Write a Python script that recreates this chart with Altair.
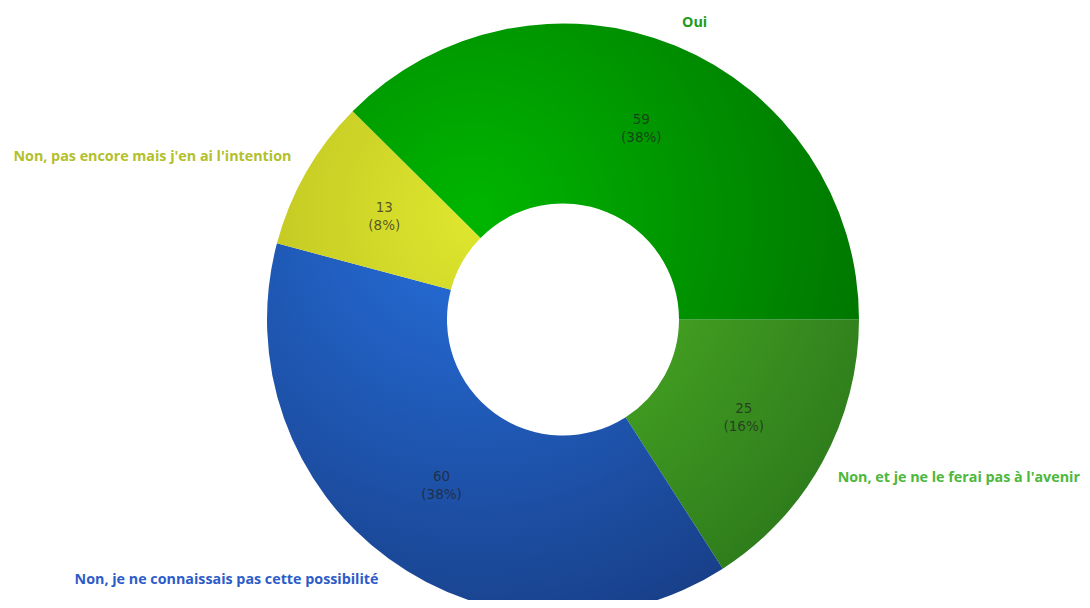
import math
import altair as alt
import pandas as pd

# ---- data (clockwise from 3 o'clock) ----
categories = [
    "Non, et je ne le ferai pas à l'avenir",
    "Non, je ne connaissais pas cette possibilité",
    "Non, pas encore mais j'en ai l'intention",
    "Oui",
]
values = [25, 60, 13, 59]

# ---- styles ----
light_colors = ["#56c026", "#2670de", "#dfe72e", "#00b600"]
dark_colors = ["#2e7c1c", "#183f88", "#a8aa18", "#007000"]
label_colors = ["#4cb83c", "#2d5cc8", "#b3c02c", "#1a9c1a"]

CX, CY = 555, 311.5          # pie centre (plot coords)
R_OUT, R_IN = 296, 116
GX, GY, RG = 467, 207, 440   # shared radial-gradient centre / radius
START = math.pi / 2          # first slice starts at 3 o'clock
LABEL_R = 313

total = sum(values)
ends = list(pd.Series(values).cumsum())
starts = [e - v for e, v in zip(ends, values)]

df = pd.DataFrame({"category": categories, "value": values,
                   "start": starts, "end": ends})
df["mid"] = (df["start"] + df["end"]) / 2
df["pct"] = (df["value"] / total * 100).round().astype(int)
df["inner"] = df["value"].astype(str) + "\n(" + df["pct"].astype(str) + "%)"
mid_angles = [START + 2 * math.pi * m / total for m in df["mid"]]
df["side"] = ["right" if math.sin(a) > 0 else "left" for a in mid_angles]
df["half"] = ["top" if math.cos(a) > 0 else "bottom" for a in mid_angles]

theta_scale = alt.Scale(domain=[0, total], range=[START, START + 2 * math.pi])


def gradient_for(i):
    a0 = START + 2 * math.pi * starts[i] / total
    a1 = START + 2 * math.pi * ends[i] / total
    pts = []
    for a in (a0, a1):
        for r in (R_OUT, R_IN):
            pts.append((CX + r * math.sin(a), CY - r * math.cos(a)))
    k = math.ceil(a0 / (math.pi / 2))
    while k * math.pi / 2 < a1:
        a = k * math.pi / 2
        pts.append((CX + R_OUT * math.sin(a), CY - R_OUT * math.cos(a)))
        k += 1
    xs = [p[0] for p in pts]
    ys = [p[1] for p in pts]
    bx, by = min(xs), min(ys)
    w, h = max(xs) - bx, max(ys) - by
    s = max(w, h)
    ox, oy = bx + (w - s) / 2, by + (h - s) / 2
    gx, gy, gr = (GX - ox) / s, (GY - oy) / s, RG / s
    return {
        "gradient": "radial",
        "x1": gx, "y1": gy, "r1": 0,
        "x2": gx, "y2": gy, "r2": gr,
        "stops": [
            {"offset": 0, "color": light_colors[i]},
            {"offset": 1, "color": dark_colors[i]},
        ],
    }


base = alt.Chart(df)

arcs = []
for i, cat in enumerate(categories):
    arcs.append(
        base.transform_filter(alt.datum.category == cat)
        .mark_arc(radius=R_OUT, radius2=R_IN, fill=gradient_for(i), strokeWidth=0)
        .encode(
            theta=alt.Theta("start:Q", scale=theta_scale),
            theta2=alt.Theta2("end:Q"),
            x=alt.value(CX),
            y=alt.value(CY),
        )
    )

inner_text = base.mark_text(
    radius=206, lineBreak="\n", font="DejaVu Sans", fontSize=13.5,
    lineHeight=18, fill="#222222", fillOpacity=0.72, align="center",
    baseline="middle", dy=-9,
).encode(
    theta=alt.Theta("mid:Q", scale=theta_scale),
    text="inner:N",
    x=alt.value(CX),
    y=alt.value(CY),
)

label_color = alt.Color("category:N",
                        scale=alt.Scale(domain=categories, range=label_colors),
                        legend=None)


def side_labels(side, half, align, dy):
    return base.transform_filter(
        (alt.datum.side == side) & (alt.datum.half == half)
    ).mark_text(
        radius=LABEL_R, font="Open Sans", fontSize=14.3, fontWeight="bold",
        align=align, baseline="middle", dy=dy,
    ).encode(
        theta=alt.Theta("mid:Q", scale=theta_scale),
        text="category:N",
        color=label_color,
        x=alt.value(CX),
        y=alt.value(CY),
    )


chart = alt.layer(
    *arcs, inner_text,
    side_labels("right", "top", "left", -7),
    side_labels("right", "bottom", "left", 8),
    side_labels("left", "top", "right", -7),
    side_labels("left", "bottom", "right", 8),
).properties(
    width=1074, height=592, autosize=alt.AutoSizeParams(type="none"), padding=0,
).configure_view(stroke=None)

chart.save("out.html", embed_options={"renderer": "svg", "actions": False})
